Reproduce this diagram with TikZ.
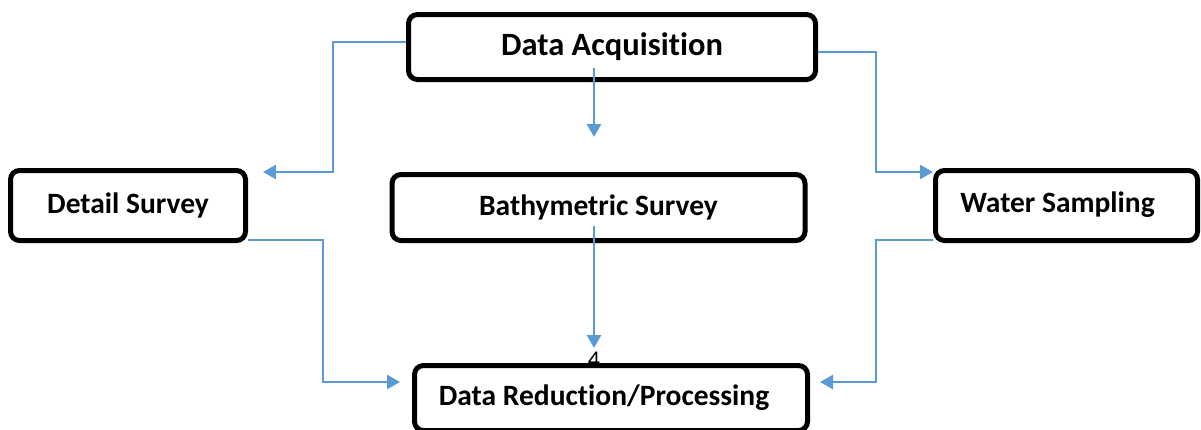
\documentclass[tikz,border=0pt]{standalone}
\usepackage{fontspec}
\setmainfont{Carlito}[Ligatures=NoCommon]
\usetikzlibrary{arrows.meta}
\definecolor{flowblue}{RGB}{91,155,213}
\begin{document}
\begin{tikzpicture}[x=1pt,y=-1pt,
  stage/.style={draw=black, line width=5pt, rounded corners=9pt, fill=white,
    inner sep=0pt, font=\fontsize{29.5}{33}\selectfont\bfseries},
  conn/.style={draw=flowblue, line width=2.6pt,
    -{Triangle[length=13pt,width=14pt]}}]
\useasboundingbox (0,0) rectangle (1201,429);

% stages of the workflow
\node[stage, minimum width=407pt, minimum height=65pt,
  font=\fontsize{32.5}{36}\selectfont\bfseries] (acq) at (612,47) {\raisebox{-3pt}{Data Acquisition}};
\node[stage, minimum width=235pt, minimum height=70pt] (det) at (128,205.5) {Detail Survey};
\node[stage, minimum width=413pt, minimum height=66pt] (bath) at (598.5,207.5) {Bathymetric Survey};
\node[stage, minimum width=262pt, minimum height=70pt] (wat) at (1066.5,205.5) {\raisebox{6pt}{Water Sampling}\hspace*{18pt}};

% page number sitting behind the last stage
\node[font=\fontsize{24}{28}\selectfont, anchor=base, inner sep=0pt] (pg) at (594,367) {4};

\node[stage, minimum width=393pt, minimum height=65pt] (red) at (611,398) {Data Reduction/Processing\hspace*{14pt}};

% end points of the flows
\coordinate (dtip) at ([xshift=15pt,yshift=-4pt]det.north east);
\coordinate (wtip) at ([yshift=-4pt]wat.north west);
\coordinate (rltip) at ([xshift=-12pt,yshift=16pt]red.west);
\coordinate (rrtip) at ([xshift=10pt,yshift=16pt]red.east);
\coordinate (mtop) at ([xshift=-18pt,yshift=14pt]acq.south);
\coordinate (mtip) at ([xshift=-18pt,yshift=-55pt]acq.south);
\coordinate (btop) at ([xshift=-4.5pt,yshift=17pt]bath.south);
\coordinate (btip) at ([xshift=-17pt,yshift=15pt]red.north);

% flows
\draw[conn] ([yshift=5pt]acq.west) -- ++(-73,0) |- (dtip);
\draw[conn] ([yshift=-5pt]acq.east) -- ++(58,0) |- (wtip);
\draw[conn] (mtop) -- (mtip);
\draw[conn] (btop) -- (btip);
\draw[conn] ([yshift=3pt]det.south east) -- ++(75,0) |- (rltip);
\draw[conn] ([yshift=3pt]wat.south west) -- ++(-57,0) |- (rrtip);
\end{tikzpicture}
\end{document}
